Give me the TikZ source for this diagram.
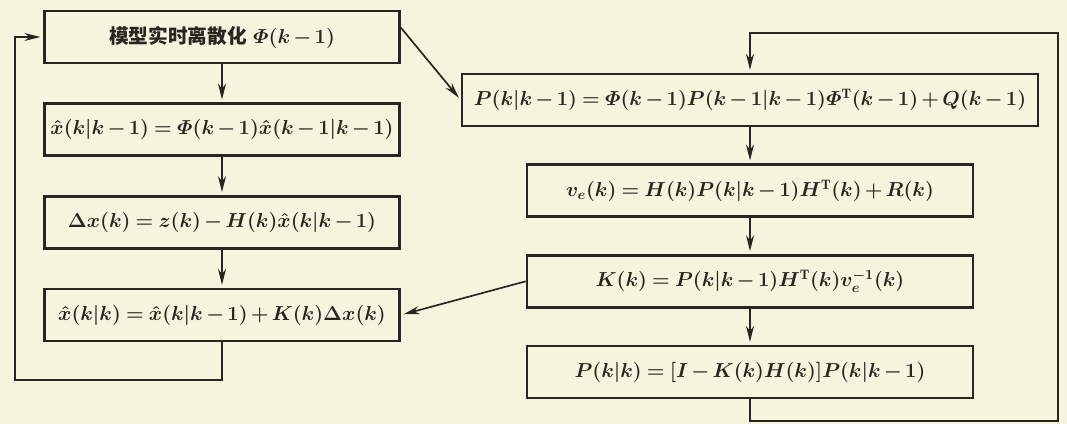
\documentclass[tikz,border=0pt]{standalone}
\usepackage{amsmath}
\usepackage{fontspec}
\newfontfamily\cjk{Noto Sans CJK SC}
\usetikzlibrary{arrows.meta,positioning}
\definecolor{paper}{RGB}{247,244,222}
\definecolor{ink}{RGB}{40,38,34}
\medmuskip=2.5mu
\thickmuskip=4mu

\begin{document}
\begin{tikzpicture}[
    font=\fontsize{14}{16}\selectfont\boldmath,
    block/.style={draw=ink, line width=1.9pt, fill=paper, text=ink, align=center, minimum height=1.3cm, inner sep=2pt},
    lblock/.style={block, minimum width=8.875cm},
    rblock/.style={block, minimum width=11.15cm},
    arrow/.style={-{Stealth[length=4mm,width=2mm]}, line width=1.2pt, draw=ink, shorten >=2pt}
]
    \fill[paper] (0,0) rectangle (26.675,10.6);
    \useasboundingbox (0,0) rectangle (26.675,10.6);

    \node[lblock] (discretize) at (5.55,9.675) {{\cjk\bfseries 模型实时离散化} $\varPhi(k-1)$};
    \node[lblock, below=0.95cm of discretize] (predict) {$\hat{x}(k|k-1)=\varPhi(k-1)\hat{x}(k-1|k-1)$};
    \node[lblock, below=0.95cm of predict] (innov) {$\Delta x(k)=z(k)-H(k)\hat{x}(k|k-1)$};
    \node[lblock, below=0.95cm of innov] (update) {$\hat{x}(k|k)=\hat{x}(k|k-1)+K(k)\Delta x(k)$};

    \node[block, minimum width=14.4cm] (covpred) at (18.75,8.1) {$P(k|k-1)=\varPhi(k-1)P(k-1|k-1)\varPhi^{\mathrm{T}}(k-1)+Q(k-1)$};
    \node[rblock, below=0.9cm of covpred] (innovcov) {$v_e(k)=H(k)P(k|k-1)H^{\mathrm{T}}(k)+R(k)$};
    \node[rblock, below=0.9cm of innovcov] (gain) {$K(k)=P(k|k-1)H^{\mathrm{T}}(k)v_e^{-1}(k)$};
    \node[rblock, below=0.9cm of gain] (covupd) {$P(k|k)=[I-K(k)H(k)]P(k|k-1)$};

    \coordinate (lcorner) at (0.375,1.1);
    \coordinate (rbottom) at (26.45,0.08);
    \coordinate (rtop) at (26.45,9.775);

    \draw[arrow] (discretize) -- (predict);
    \draw[arrow] (predict) -- (innov);
    \draw[arrow] (innov) -- (update);
    \draw[arrow] (update.south) |- (lcorner) |- (discretize.west);
    \draw[arrow] (discretize.3) -- (covpred.west);

    \draw[arrow] (covpred) -- (innovcov);
    \draw[arrow] (innovcov) -- (gain);
    \draw[arrow] (gain) -- (covupd);
    \draw[arrow] (gain.west) -- (update.east);
    \draw[arrow] (covupd.south) |- (rbottom) -- (rtop) -| (covpred.north);
\end{tikzpicture}
\end{document}
